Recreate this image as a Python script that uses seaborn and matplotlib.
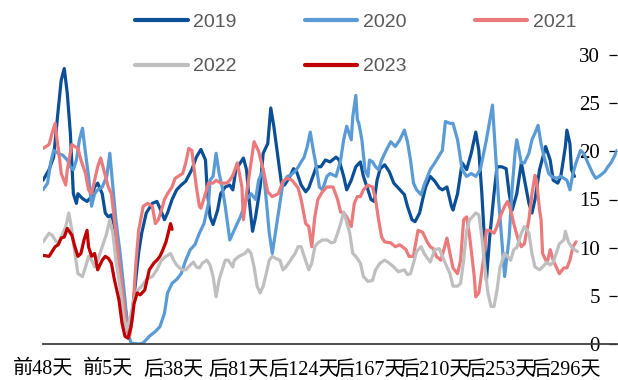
import matplotlib
matplotlib.use("Agg")
import matplotlib.pyplot as plt
import seaborn as sns
import pandas as pd

# ---- data -------------------------------------------------------------
years = ["2019", "2020", "2021", "2022", "2023"]
colors = ["#0B4F96", "#5B9BD5", "#EB7A7C", "#BFBFBF", "#C00000"]

tick_days = [-48, -5, 38, 81, 124, 167, 210, 253, 296]
tick_labels = ["前48天", "前5天", "后38天", "后81天", "后124天",
               "后167天", "后210天", "后253天", "后296天"]

days_2019 = [-48, -44, -41, -38, -36, -34, -32, -30, -28, -26, -25, -22, -19, -16, -14,
             -12, -9, -7, -5, -3, -1, 3, 6, 8, 10, 13, 15, 17, 20, 24, 27, 29, 32, 34,
             37, 40, 43, 46, 50, 53, 56, 59, 60, 62, 64, 67, 69, 72, 75, 77, 79, 84, 86,
             88, 90, 92, 95, 97, 100, 102, 104, 107, 109, 111, 114, 117, 119, 122, 125,
             127, 130, 132, 135, 138, 141, 145, 147, 150, 152, 155, 158, 161, 163, 166,
             168, 170, 172, 174, 177, 180, 183, 186, 190, 192, 195, 197, 200, 202, 204,
             207, 210, 213, 215, 218, 221, 222, 225, 228, 231, 234, 237, 239, 241, 243,
             244, 246, 249, 251, 254, 257, 259, 261, 264, 267, 270, 272, 274, 276, 279,
             283, 286, 288, 291, 293, 296, 297, 299, 300, 302]
vals_2019 = [17.0, 18.1, 19.4, 24.3, 27.4, 28.6, 26.0, 21.9, 15.6, 14.6, 15.6, 15.1, 14.8,
             15.3, 16.3, 16.7, 15.6, 13.6, 13.2, 13.4, 12.2, 8.0, 3.9, 1.8, 2.1, 6.5, 9.5,
             11.5, 13.6, 14.6, 14.8, 14.1, 12.9, 13.6, 15.0, 16.0, 16.5, 16.9, 18.1, 19.4,
             20.2, 19.1, 16.3, 13.2, 12.4, 13.9, 15.6, 16.3, 16.5, 16.0, 18.1, 19.3, 18.1,
             14.6, 11.7, 13.2, 16.3, 19.8, 20.8, 24.5, 22.6, 19.1, 16.7, 16.5, 17.2, 18.2,
             17.9, 16.5, 15.8, 16.2, 17.5, 18.4, 18.4, 19.1, 18.9, 19.4, 19.1, 17.4, 16.0,
             17.0, 18.4, 18.9, 17.4, 16.0, 15.0, 14.8, 17.0, 18.2, 18.6, 17.9, 16.7, 16.2,
             15.5, 14.3, 12.9, 12.7, 13.6, 15.0, 16.3, 17.4, 16.9, 16.2, 16.0, 16.3, 14.3,
             13.9, 15.6, 18.8, 18.1, 19.8, 22.0, 20.1, 15.6, 10.1, 6.6, 10.8, 15.6, 18.4,
             18.4, 18.2, 15.6, 13.9, 15.6, 18.8, 16.3, 14.6, 13.6, 15.0, 18.1, 20.5, 19.1,
             17.0, 16.7, 17.4, 20.5, 22.2, 20.8, 18.1, 17.4]

days_2020 = [-48, -45, -43, -41, -38, -35, -32, -30, -28, -26, -24, -22, -20, -18, -16,
             -14, -12, -9, -6, -4, -2, 0, 3, 6, 8, 10, 15, 18, 22, 26, 29, 32, 34, 37, 40,
             43, 46, 49, 52, 55, 58, 61, 62, 64, 66, 68, 70, 72, 75, 77, 79, 82, 86, 89,
             92, 94, 97, 99, 101, 103, 105, 108, 110, 113, 115, 119, 122, 124, 126, 128,
             130, 132, 134, 136, 139, 141, 145, 148, 150, 152, 155, 156, 158, 159, 160,
             162, 164, 166, 167, 169, 171, 173, 175, 178, 181, 184, 187, 190, 192, 194,
             196, 198, 201, 203, 207, 210, 215, 217, 220, 222, 225, 228, 231, 234, 237,
             240, 244, 248, 250, 252, 254, 256, 259, 261, 263, 264, 267, 269, 272, 274,
             276, 278, 280, 282, 285, 287, 290, 293, 297, 299, 301, 303, 306, 308, 310,
             312, 314, 316, 319, 322, 324, 326, 328, 330]
vals_2020 = [16.0, 16.7, 18.8, 20.1, 19.8, 19.6, 19.1, 18.4, 18.1, 19.1, 21.2, 22.4, 19.8,
             17.4, 14.3, 15.6, 16.0, 16.3, 17.4, 19.8, 16.3, 12.9, 9.1, 4.6, 1.1, 0.1, 0.0,
             0.1, 0.8, 1.3, 1.8, 3.2, 5.3, 6.3, 6.7, 7.3, 8.7, 9.8, 10.3, 11.5, 12.5, 14.6,
             17.0, 17.4, 19.8, 17.7, 16.3, 14.3, 10.8, 11.5, 12.2, 13.2, 15.0, 15.6, 15.0,
             17.0, 18.1, 15.0, 11.5, 9.4, 11.5, 14.6, 16.7, 17.4, 17.5, 18.1, 18.9, 19.4,
             20.5, 22.0, 20.1, 18.4, 16.3, 16.0, 17.4, 17.7, 17.4, 19.1, 21.2, 22.6, 21.2,
             23.6, 25.8, 23.3, 22.9, 21.2, 18.1, 17.4, 19.1, 18.9, 18.4, 18.1, 19.1, 20.1,
             21.0, 20.5, 21.2, 22.2, 21.0, 19.1, 16.7, 16.0, 15.5, 16.5, 18.1, 18.8, 20.1,
             23.1, 22.9, 22.9, 21.2, 18.1, 17.4, 17.7, 17.4, 18.1, 21.2, 24.8, 19.8, 15.0,
             11.1, 7.0, 11.1, 16.3, 20.1, 21.2, 18.8, 18.8, 19.8, 21.2, 21.9, 22.7, 20.8,
             19.4, 17.7, 17.4, 17.2, 17.4, 17.0, 16.0, 17.7, 18.8, 20.1, 19.8, 19.1, 18.4,
             17.7, 17.2, 17.5, 17.9, 18.4, 18.8, 19.4, 20.1]

days_2021 = [-48, -44, -42, -40, -39, -37, -36, -33, -32, -29, -27, -25, -23, -20, -18,
             -16, -14, -12, -10, -8, -5, -3, -1, 2, 5, 7, 9, 11, 13, 15, 18, 21, 24, 26,
             28, 30, 32, 34, 37, 39, 41, 44, 46, 48, 50, 51, 53, 55, 56, 59, 61, 64, 66,
             69, 73, 75, 77, 80, 83, 84, 86, 89, 91, 94, 97, 100, 103, 107, 110, 113, 116,
             120, 122, 125, 127, 129, 131, 133, 136, 139, 143, 146, 148, 150, 152, 155,
             157, 159, 161, 163, 166, 169, 171, 173, 175, 177, 181, 184, 187, 191, 193,
             196, 197, 199, 202, 205, 207, 209, 211, 214, 216, 218, 220, 222, 225, 227,
             229, 231, 233, 236, 237, 239, 242, 244, 246, 249, 251, 253, 256, 258, 260,
             262, 265, 267, 269, 272, 274, 276, 277, 279, 280, 281, 284, 286, 288, 290,
             292, 295, 297, 299, 301, 303]
vals_2021 = [20.3, 20.7, 21.9, 22.9, 21.5, 19.1, 17.7, 16.5, 18.1, 20.7, 20.5, 20.3, 19.1,
             17.7, 16.0, 15.6, 17.0, 18.4, 19.3, 18.1, 16.3, 15.6, 12.9, 8.7, 4.6, 1.8,
             0.8, 2.8, 8.0, 11.8, 14.3, 14.6, 14.3, 12.5, 12.9, 13.9, 15.0, 15.6, 16.3,
             17.2, 17.4, 17.7, 18.8, 20.3, 20.1, 18.8, 16.3, 14.3, 14.1, 15.6, 16.7, 16.7,
             17.0, 16.7, 16.7, 17.0, 17.5, 18.8, 16.3, 12.9, 15.6, 18.8, 21.0, 20.0, 18.1,
             15.8, 15.3, 15.6, 16.9, 17.2, 17.0, 16.2, 15.0, 12.5, 12.2, 10.1, 13.2, 15.0,
             15.8, 16.3, 16.3, 15.0, 13.7, 13.6, 13.2, 12.2, 14.6, 15.3, 15.3, 16.0, 16.5,
             16.3, 15.0, 12.9, 11.1, 10.6, 10.5, 10.1, 10.3, 9.8, 9.1, 9.1, 10.1, 11.8,
             11.6, 10.6, 10.1, 9.9, 9.1, 8.7, 9.8, 11.0, 9.4, 7.9, 7.3, 8.7, 12.9, 13.2,
             11.1, 7.0, 4.9, 5.3, 8.7, 11.8, 11.8, 11.5, 12.2, 13.2, 14.3, 14.8, 13.9,
             12.5, 10.8, 10.1, 10.4, 12.9, 15.6, 17.5, 17.0, 13.9, 12.9, 9.4, 8.4, 9.8,
             8.7, 8.0, 7.3, 7.9, 7.9, 8.7, 10.1, 10.6]

days_2022 = [-48, -44, -42, -40, -38, -36, -33, -31, -29, -27, -25, -22, -20, -18, -16,
             -14, -12, -9, -6, -4, -2, 0, 3, 5, 7, 9, 12, 14, 17, 20, 24, 27, 30, 33, 36,
             38, 40, 42, 44, 46, 49, 51, 53, 55, 57, 60, 62, 64, 66, 68, 70, 72, 74, 77,
             78, 81, 85, 87, 89, 91, 93, 95, 97, 99, 101, 103, 105, 108, 110, 112, 115,
             118, 120, 122, 124, 127, 129, 131, 133, 136, 139, 142, 144, 146, 148, 150,
             151, 154, 156, 158, 161, 163, 166, 169, 171, 174, 177, 180, 183, 186, 190,
             192, 194, 196, 198, 201, 203, 207, 210, 213, 215, 218, 220, 222, 225, 227,
             229, 231, 233, 237, 239, 241, 243, 245, 247, 249, 251, 253, 256, 258, 260,
             262, 264, 267, 269, 272, 274, 276, 279, 281, 284, 286, 288, 290, 292, 295,
             296, 298, 300, 302, 304]
vals_2022 = [10.6, 11.5, 11.3, 10.8, 10.4, 11.1, 12.2, 13.6, 11.8, 9.4, 7.3, 7.0, 8.0, 9.1,
             8.7, 8.0, 8.7, 10.1, 11.5, 12.9, 11.5, 8.7, 5.6, 2.8, 1.5, 2.5, 4.6, 5.5, 6.0,
             6.7, 7.0, 7.7, 8.7, 9.1, 9.4, 8.7, 8.2, 7.9, 7.7, 7.7, 8.2, 8.5, 8.0, 7.9, 8.4,
             8.7, 8.2, 7.0, 4.9, 6.7, 7.7, 8.7, 8.7, 8.0, 8.7, 9.1, 9.4, 9.8, 9.4, 8.0, 6.0,
             5.3, 6.0, 7.3, 8.7, 9.1, 8.9, 8.7, 7.7, 8.0, 8.7, 9.4, 10.1, 10.1, 9.1, 7.7,
             8.4, 10.1, 10.5, 10.8, 10.8, 10.5, 10.6, 11.5, 12.5, 13.7, 13.2, 11.5, 9.4,
             9.1, 8.4, 7.0, 6.5, 6.6, 7.7, 8.4, 8.7, 8.4, 8.0, 7.5, 7.7, 7.2, 7.3, 8.4, 9.6,
             10.1, 9.4, 8.5, 9.8, 9.9, 9.1, 8.0, 7.3, 6.0, 6.0, 6.3, 8.7, 11.8, 12.9, 13.6,
             13.4, 11.1, 8.0, 5.3, 3.9, 3.9, 5.6, 8.0, 9.4, 9.1, 8.7, 9.8, 10.0, 11.5, 12.2,
             11.5, 9.4, 8.0, 7.7, 8.0, 8.5, 8.2, 8.5, 9.4, 10.4, 10.8, 11.7, 10.6, 10.1,
             9.8, 9.6]

days_2023 = [-48, -44, -42, -40, -38, -36, -34, -32, -29, -27, -25, -23, -21, -19, -18,
             -16, -14, -12, -9, -7, -5, -3, -1, 2, 4, 6, 8, 10, 12, 14, 16, 19, 21, 22, 25,
             27, 29, 31, 33, 36, 37]
vals_2023 = [9.2, 9.1, 9.6, 10.1, 10.3, 11.0, 11.1, 12.0, 11.3, 10.1, 9.1, 9.4, 10.8, 11.8,
             10.1, 9.1, 9.4, 7.7, 8.7, 9.1, 8.9, 8.4, 6.7, 4.6, 2.2, 0.8, 0.6, 1.8, 4.2, 5.3,
             5.1, 5.6, 7.0, 7.7, 8.4, 8.7, 9.1, 9.8, 10.6, 12.5, 11.9]

series_days = [days_2019, days_2020, days_2021, days_2022, days_2023]
series_vals = [vals_2019, vals_2020, vals_2021, vals_2022, vals_2023]

df = pd.concat(
    [pd.DataFrame({"day": d, "value": v, "year": y})
     for y, d, v in zip(years, series_days, series_vals)],
    ignore_index=True,
)

# ---- figure -------------------------------------------------------------
sns.set_style("white")
plt.rcParams["font.family"] = ["Liberation Serif", "Noto Sans CJK SC"]

fig = plt.figure(figsize=(6.18, 3.80), dpi=100)
ax = fig.add_axes([43 / 618, 36 / 380, (617 - 43) / 618, (344 - 55) / 380])

sns.lineplot(data=df, x="day", y="value", hue="year", hue_order=years,
             palette=colors, estimator=None, sort=False, linewidth=2.3,
             solid_joinstyle="round", solid_capstyle="round", ax=ax)

handles, labels = ax.get_legend_handles_labels()
ax.get_legend().remove()

ax.set_xlim(-48, 330)
ax.set_ylim(0, 30)
ax.set_xlabel("")
ax.set_ylabel("")

# x axis: category labels below a dark baseline
ax.set_xticks(tick_days)
ax.set_xticklabels(tick_labels)
ax.tick_params(axis="x", length=0, labelsize=14.5, pad=12, colors="black")

# y axis on the right, labels sitting just inside the plot
ax.set_yticks(range(0, 31, 5))
ax.yaxis.tick_right()
ax.tick_params(axis="y", which="major", right=True, left=False,
               direction="in", length=5.5, width=0.9, labelsize=15,
               pad=-12.2, colors="black")
for t in ax.yaxis.get_major_ticks():
    t.label2.set_horizontalalignment("right")

for side in ("top", "left", "right"):
    ax.spines[side].set_visible(False)
ax.spines["bottom"].set_color("#404040")
ax.spines["bottom"].set_linewidth(1.3)
ax.grid(False)

# legend: two rows, three columns (entries filled column by column)
order = [0, 3, 1, 4, 2]
leg = fig.legend([handles[i] for i in order], [labels[i] for i in order],
                 ncol=3, loc="upper left", bbox_to_anchor=(135 / 618, 1 - 13 / 380),
                 frameon=False, prop={"family": "Liberation Sans", "size": 14},
                 labelcolor="#595959", handlelength=2.7, handletextpad=0.3,
                 columnspacing=3.5, labelspacing=1.4, borderpad=0, borderaxespad=0)
for line in leg.get_lines():
    line.set_linewidth(3.0)
    line.set_solid_capstyle("round")

fig.savefig("out.png", dpi=100)
